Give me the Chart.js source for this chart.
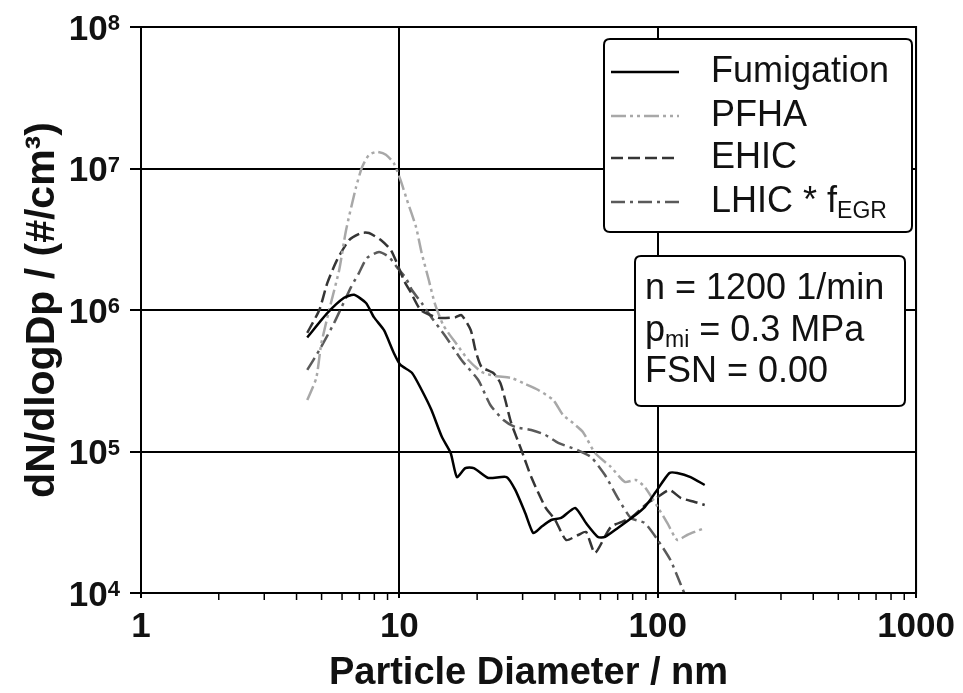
<!DOCTYPE html>
<html>
<head>
<meta charset="UTF-8">
<title>Particle size distribution</title>
<script src="https://cdn.jsdelivr.net/npm/chart.js@4.4.1/dist/chart.umd.min.js"></script>
<style>
  html, body { margin: 0; padding: 0; background: #fff; }
  #wrap { width: 963px; height: 693px; }
</style>
</head>
<body>
<div id="wrap"><canvas id="grafico"></canvas></div>
<script>
// values (diameter in nm, dN/dlogDp in #/cm3)
const fumD = [4.40, 5.26, 6.11, 6.68, 7.43, 7.97, 8.72, 9.52, 10.1, 11.2, 12.2, 13.3, 14.6, 15.8, 16.7, 18.0, 19.4, 22.1, 26.0, 28.1, 30.7, 33.0, 35.4, 38.7, 42.3, 47.9, 52.8, 58.7, 62.5, 70.1, 80.1, 89.1, 98.2, 111, 119, 134, 152];
const fumN = [6.4e5, 9.5e5, 1.22e6, 1.28e6, 1.12e6, 8.9e5, 7.2e5, 4.97e5, 4.09e5, 3.59e5, 2.72e5, 1.97e5, 1.27e5, 9.76e4, 6.6e4, 7.64e4, 7.64e4, 6.5e4, 6.6e4, 5.35e4, 3.68e4, 2.65e4, 2.93e4, 3.28e4, 3.39e4, 3.99e4, 3.12e4, 2.49e4, 2.49e4, 2.88e4, 3.44e4, 4.05e4, 5.17e4, 7.05e4, 7.05e4, 6.6e4, 5.8e4];

const pfhaD = [4.40, 4.77, 4.98, 5.35, 5.85, 6.22, 6.80, 7.17, 7.63, 8.19, 8.87, 9.52, 10.1, 10.7, 11.6, 12.2, 13.0, 13.7, 14.8, 16.7, 18.5, 20.8, 23.5, 27.1, 30.7, 34.5, 39.4, 43.0, 47.0, 51.4, 57.2, 65.9, 74.6, 82.3, 89.1, 100, 109, 119, 130, 152];
const pfhaN = [2.31e5, 3.31e5, 5.7e5, 1.0e6, 1.92e6, 3.68e6, 7.4e6, 1.02e7, 1.25e7, 1.31e7, 1.25e7, 1.09e7, 8.3e6, 6.0e6, 3.86e6, 2.53e6, 1.63e6, 1.12e6, 7.8e5, 5.7e5, 4.43e5, 3.65e5, 3.42e5, 3.31e5, 3.0e5, 2.72e5, 2.31e5, 1.81e5, 1.59e5, 1.37e5, 9.76e4, 7.77e4, 6.09e4, 6.29e4, 5.61e4, 4.05e4, 3.12e4, 2.37e4, 2.57e4, 2.88e4];

const ehicD = [4.40, 4.90, 5.26, 5.74, 6.39, 7.11, 7.63, 8.48, 9.27, 9.78, 10.4, 11.1, 12.1, 14.2, 16.5, 17.4, 18.9, 19.7, 20.8, 23.1, 24.6, 25.7, 27.1, 29.7, 32.4, 36.7, 40.1, 44.2, 49.2, 52.8, 57.2, 65.9, 78.7, 91.5, 100, 111, 123, 139, 152];
const ehicN = [6.9e5, 1.0e6, 1.55e6, 2.26e6, 3.12e6, 3.5e6, 3.5e6, 3.12e6, 2.65e6, 2.15e6, 1.63e6, 1.32e6, 1.0e6, 8.8e5, 8.9e5, 9.2e5, 7.2e5, 5.2e5, 3.96e5, 3.59e5, 3.05e5, 2.31e5, 1.59e5, 1.02e5, 6.6e4, 4.05e4, 3.28e4, 2.37e4, 2.57e4, 2.7e4, 1.92e4, 2.93e4, 3.39e4, 4.33e4, 4.77e4, 5.35e4, 4.69e4, 4.4e4, 4.19e4];

const lhicD = [4.40, 4.90, 5.59, 6.50, 6.98, 7.49, 8.34, 9.11, 9.78, 10.6, 11.2, 12.2, 13.3, 15.1, 17.4, 20.2, 22.5, 25.3, 28.1, 32.4, 36.7, 41.2, 49.2, 55.2, 62.5, 70.1, 78.7, 89.1, 100, 112, 123, 130];
const lhicN = [3.77e5, 5.2e5, 8.1e5, 1.45e6, 1.83e6, 2.33e6, 2.57e6, 2.37e6, 2.01e6, 1.68e6, 1.38e6, 1.12e6, 8.9e5, 6.5e5, 4.43e5, 3.2e5, 2.13e5, 1.67e5, 1.49e5, 1.42e5, 1.31e5, 1.15e5, 1.02e5, 9.14e4, 6.82e4, 4.69e4, 3.39e4, 3.12e4, 2.37e4, 1.71e4, 1.14e4, 8.9e3];

const xTicks = [1, 10, 100, 1000];
const yTicks = [1e4, 1e5, 1e6, 1e7, 1e8];
const legendNames = ['Fumigation', 'PFHA', 'EHIC', 'LHIC * f|EGR|'];
const infoLines = ['n = 1200 1/min', 'p|mi| = 0.3 MPa', 'FSN = 0.00'];

const FONT = '"Liberation Sans", Arial, sans-serif';

function pts(xs, ys) {
  return xs.map((x, i) => ({ x: x, y: ys[i] }));
}

function roundBox(ctx, x, y, w, h, r) {
  ctx.beginPath();
  ctx.moveTo(x + r, y);
  ctx.lineTo(x + w - r, y);
  ctx.quadraticCurveTo(x + w, y, x + w, y + r);
  ctx.lineTo(x + w, y + h - r);
  ctx.quadraticCurveTo(x + w, y + h, x + w - r, y + h);
  ctx.lineTo(x + r, y + h);
  ctx.quadraticCurveTo(x, y + h, x, y + h - r);
  ctx.lineTo(x, y + r);
  ctx.quadraticCurveTo(x, y, x + r, y);
  ctx.closePath();
  ctx.fillStyle = '#fff';
  ctx.fill();
  ctx.lineWidth = 2;
  ctx.strokeStyle = '#000';
  ctx.stroke();
}

// text with a subscript part written as a|sub|b
function subText(ctx, str, x, y, size) {
  const parts = str.split('|');
  let cx = x;
  parts.forEach((p, i) => {
    const isSub = i % 2 === 1;
    ctx.font = (isSub ? Math.round(size * 0.65) : size) + 'px ' + FONT;
    ctx.fillText(p, cx, isSub ? y + size * 0.28 : y);
    cx += ctx.measureText(p).width;
  });
}

const decor = {
  id: 'decor',
  afterDatasetsDraw(chart) {
    const ctx = chart.ctx;
    const a = chart.chartArea;
    const xs = chart.scales.x;
    const ys = chart.scales.y;
    ctx.save();
    // frame
    ctx.strokeStyle = '#000';
    ctx.lineWidth = 2;
    ctx.strokeRect(a.left, a.top, a.right - a.left, a.bottom - a.top);
    // minor ticks on x axis
    ctx.lineWidth = 1.5;
    for (let d = 1; d < 1000; d *= 10) {
      for (let m = 2; m <= 9; m++) {
        const px = xs.getPixelForValue(m * d);
        ctx.beginPath();
        ctx.moveTo(px, a.bottom);
        ctx.lineTo(px, a.bottom + 7);
        ctx.stroke();
      }
    }
    // y tick labels as 10 with a raised exponent
    ctx.fillStyle = '#111';
    ctx.textBaseline = 'alphabetic';
    ctx.textAlign = 'left';
    yTicks.forEach(v => {
      const py = ys.getPixelForValue(v);
      const e = String(Math.round(Math.log10(v)));
      ctx.font = 'bold 22px ' + FONT;
      const ew = ctx.measureText(e).width;
      ctx.font = 'bold 35px ' + FONT;
      const bw = ctx.measureText('10').width;
      const right = a.left - 21;
      ctx.fillText('10', right - ew - bw, py + 12.5);
      ctx.font = 'bold 22px ' + FONT;
      ctx.fillText(e, right - ew, py + 3);
    });
    // legend box
    roundBox(ctx, 604, 39, 308, 193, 6);
    const rows = [72, 116, 158, 202];
    chart.data.datasets.forEach((ds, i) => {
      ctx.strokeStyle = ds.borderColor;
      ctx.lineWidth = ds.borderWidth;
      ctx.setLineDash(ds.borderDash || []);
      ctx.beginPath();
      ctx.moveTo(611, rows[i]);
      ctx.lineTo(679, rows[i]);
      ctx.stroke();
      ctx.setLineDash([]);
      ctx.fillStyle = '#111';
      ctx.textBaseline = 'middle';
      ctx.textAlign = 'left';
      subText(ctx, legendNames[i], 711, rows[i], 36);
    });
    // info box
    roundBox(ctx, 635, 256, 270, 150, 6);
    const infoRows = [289, 331, 372];
    infoLines.forEach((t, i) => {
      ctx.fillStyle = '#111';
      ctx.textBaseline = 'middle';
      subText(ctx, t, 645, infoRows[i], 36);
    });
    ctx.restore();
  }
};

const ctx = document.getElementById('grafico').getContext('2d');
new Chart(ctx, {
  type: 'line',
  data: {
    datasets: [
      { label: 'Fumigation', data: pts(fumD, fumN), borderColor: '#000000', borderWidth: 2.5 },
      { label: 'PFHA', data: pts(pfhaD, pfhaN), borderColor: '#a8a8a8', borderWidth: 2.5, borderDash: [15, 4, 3, 4, 3, 4] },
      { label: 'EHIC', data: pts(ehicD, ehicN), borderColor: '#353535', borderWidth: 2.5, borderDash: [12, 5] },
      { label: 'LHIC * fEGR', data: pts(lhicD, lhicN), borderColor: '#5a5a5a', borderWidth: 2.5, borderDash: [14, 5, 3, 5] }
    ]
  },
  options: {
    responsive: true,
    maintainAspectRatio: false,
    animation: false,
    layout: { padding: { top: 27, right: 44, bottom: 0, left: 0 } },
    elements: { point: { radius: 0 }, line: { tension: 0.2, fill: false } },
    plugins: { legend: { display: false }, tooltip: { enabled: false } },
    scales: {
      x: {
        type: 'logarithmic',
        min: 1,
        max: 1000,
        afterBuildTicks: s => { s.ticks = xTicks.map(v => ({ value: v, major: true })); },
        afterFit: s => { s.height = 100; },
        grid: { color: '#000', lineWidth: 2, tickLength: 5 },
        border: { display: true, color: '#000', width: 2 },
        ticks: {
          color: '#111',
          padding: 8,
          maxRotation: 0,
          font: { family: FONT, size: 35, weight: 'bold' },
          callback: v => String(v)
        },
        title: {
          display: true,
          text: 'Particle Diameter / nm',
          color: '#111',
          padding: { top: 0, bottom: 0 },
          font: { family: FONT, size: 38, weight: 'bold', lineHeight: 1 }
        }
      },
      y: {
        type: 'logarithmic',
        min: 1e4,
        max: 1e8,
        afterBuildTicks: s => { s.ticks = yTicks.map(v => ({ value: v, major: true })); },
        afterFit: s => { s.width = 141; },
        grid: { color: '#000', lineWidth: 2, tickLength: 11 },
        border: { display: true, color: '#000', width: 2 },
        ticks: { display: false },
        title: {
          display: true,
          text: 'dN/dlogDp / (#/cm³)',
          color: '#111',
          padding: { top: 18, bottom: 0 },
          font: { family: FONT, size: 41, weight: 'bold', lineHeight: 1.2 }
        }
      }
    }
  },
  plugins: [decor]
});
</script>
</body>
</html>
